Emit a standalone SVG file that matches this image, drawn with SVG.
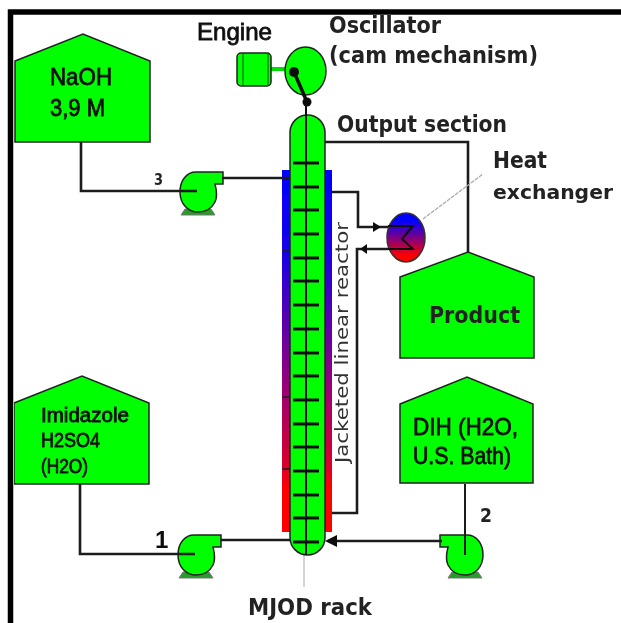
<svg xmlns="http://www.w3.org/2000/svg" width="621" height="623" viewBox="0 0 621 623">
<defs>
<linearGradient id="jk" gradientUnits="userSpaceOnUse" x1="0" y1="170" x2="0" y2="532"><stop offset="0" stop-color="#0000ff"/><stop offset="0.22" stop-color="#1500e8"/><stop offset="0.62" stop-color="#a00070"/><stop offset="0.82" stop-color="#d80028"/><stop offset="0.88" stop-color="#ff0000"/></linearGradient>
<linearGradient id="hx" x1="0" y1="0" x2="0" y2="1"><stop offset="0.15" stop-color="#0000ff"/><stop offset="0.88" stop-color="#ff0000"/></linearGradient>
<filter id="soft" x="0" y="0" width="100%" height="100%"><feGaussianBlur stdDeviation="0.45"/></filter>
<g id="pump"><path d="M-13 17H13L17 23H-17Z" fill="#2a9a2a" stroke="#777" stroke-width="1"/><path d="M-2 -20H25V-8H17C19 0 19 6 17 10C13 18 6 20 0 20C-10 20 -18 12 -18 0C-18 -12 -11 -20 -2 -20Z" class="g"/></g>
</defs>
<style>
.g{fill:#00ff00;stroke:#222;stroke-width:1.5}
.l{fill:none;stroke:#1a1a1a;stroke-width:2.6}
.t{font-family:"Liberation Sans",Arial,sans-serif;font-weight:bold;fill:#111}
.n{font-family:"Liberation Sans",Arial,sans-serif;font-weight:normal;fill:#111;stroke:#111;stroke-width:.8}
.d{font-family:"DejaVu Sans",Verdana,sans-serif;font-weight:bold;fill:#222}
.j{font-family:"DejaVu Sans",Verdana,sans-serif;font-weight:normal;fill:#333}
.tick{stroke:#111;stroke-width:3;fill:none}
</style>
<rect width="621" height="623" fill="#fff"/>
<path d="M10.5 623V12H621" fill="none" stroke="#000" stroke-width="5.5"/>
<g filter="url(#soft)">
<g id="jacket"><rect x="282" y="170" width="50" height="362" fill="url(#jk)"/><path d="M282 251H290M282 397H290M282 469H290" stroke="#222" stroke-width="1.5"/></g>
<g id="pump3"><use href="#pump" transform="translate(198 192)"/></g>
<g id="pump1"><use href="#pump" transform="translate(196 555)"/></g>
<g id="pump2"><use href="#pump" transform="translate(465 555) scale(-1 1)"/></g>
<g id="connectors">
<path class="l" d="M81 142V191H197"/>
<path class="l" d="M222 178H292"/>
<path class="l" d="M80 484V554H195"/>
<path class="l" d="M220 540H292"/>
<path class="l" d="M465 484V555" style="stroke-width:2"/>
<path class="l" d="M442 541H330"/>
<path d="M325 541L337 535V547Z" fill="#111"/>
<path class="l" d="M325 142H468V252"/>
<path class="l" d="M332 192H358V227H388"/>
<path d="M381 227L373 222V232Z" fill="#111"/>
<path class="l" d="M388 249H357V513H332"/>
<path d="M360 249L367 244V254Z" fill="#111"/>
<path d="M271 69H286" stroke="#00e000" stroke-width="4"/>
<path d="M423 219L483 174" stroke="#aaa" stroke-width="1.2" stroke-dasharray="4 1"/>
<path d="M304 555V587" stroke="#aaa" stroke-width="1"/>
</g>
<g id="engine"><rect x="237" y="53" width="34" height="33" rx="4" class="g"/><path d="M243 54V85M268 54V85" stroke="#008800" stroke-width="1.5"/></g>
<g id="oscillator"><ellipse cx="305.5" cy="71" rx="20.5" ry="24" class="g"/><path d="M294 72L307 102" stroke="#111" stroke-width="3.5"/><circle cx="294" cy="72" r="5" fill="#111"/><circle cx="307" cy="102" r="4.5" fill="#111"/></g>
<g id="column"><rect x="290" y="115" width="35" height="440" rx="17.5" class="g"/><path d="M306 102V555" stroke="#111" stroke-width="2"/>
<path class="tick" d="M293 163H319M293 187H319M293 210H319M293 234H319M293 258H319M293 281H319M293 305H319M293 329H319M293 353H319M293 376H319M293 400H319M293 424H319M293 447H319M293 471H319M293 495H319M293 518H319M293 542H319"/></g>
<g id="naoh"><path class="g" d="M15 61L83 34L150 61V142H15Z"/><text class="n" x="50" y="85" font-size="24" textLength="62" lengthAdjust="spacingAndGlyphs">NaOH</text><text class="n" x="50" y="116" font-size="24" textLength="55" lengthAdjust="spacingAndGlyphs">3,9 M</text></g>
<g id="imidazole"><path class="g" d="M14 403L82 376L149 403V484H14Z"/><text class="n" x="41" y="422" font-size="20" textLength="88" lengthAdjust="spacingAndGlyphs">Imidazole</text><text class="n" x="41" y="447" font-size="20" textLength="59" lengthAdjust="spacingAndGlyphs">H2SO4</text><text class="n" x="41" y="473" font-size="20" textLength="47" lengthAdjust="spacingAndGlyphs">(H2O)</text></g>
<g id="dih"><path class="g" d="M400 404L467 377L533 404V483H400Z"/><text class="n" x="413" y="435" font-size="24" textLength="105" lengthAdjust="spacingAndGlyphs">DIH (H2O,</text><text class="n" x="413" y="464" font-size="24" textLength="98" lengthAdjust="spacingAndGlyphs">U.S. Bath)</text></g>
<g id="product"><path class="g" d="M400 277L468 252L534 277V358H400Z"/><text class="d" x="429" y="323" font-size="23" textLength="91" lengthAdjust="spacingAndGlyphs">Product</text></g>
<g id="heat-exchanger"><ellipse cx="406" cy="237.5" rx="19" ry="24.5" fill="url(#hx)" stroke="#333" stroke-width="1.5"/><path d="M388 226H413L402 239L413 249H388" fill="none" stroke="#111" stroke-width="2"/></g>
<g id="labels">
<text class="n" x="197" y="40" font-size="24" textLength="75" lengthAdjust="spacingAndGlyphs">Engine</text>
<text class="d" x="329" y="33" font-size="23" textLength="112" lengthAdjust="spacingAndGlyphs">Oscillator</text>
<text class="d" x="329" y="63" font-size="23" textLength="209" lengthAdjust="spacingAndGlyphs">(cam mechanism)</text>
<text class="d" x="337" y="132" font-size="23" textLength="170" lengthAdjust="spacingAndGlyphs">Output section</text>
<text class="d" x="493" y="168" font-size="23" textLength="54" lengthAdjust="spacingAndGlyphs">Heat</text>
<text class="d" x="493" y="199" font-size="20" textLength="120" lengthAdjust="spacingAndGlyphs">exchanger</text>
<text class="d" x="154" y="185" font-size="16" textLength="9" lengthAdjust="spacingAndGlyphs">3</text>
<text class="t" x="155" y="548" font-size="24">1</text>
<text class="d" x="480" y="522" font-size="20" textLength="12" lengthAdjust="spacingAndGlyphs">2</text>
<text class="d" x="248" y="615" font-size="23" textLength="124" lengthAdjust="spacingAndGlyphs">MJOD rack</text>
<text class="j" transform="translate(348 463) rotate(-90)" font-size="18" textLength="241" lengthAdjust="spacingAndGlyphs">Jacketed linear reactor</text>
</g>
</g>
</svg>
